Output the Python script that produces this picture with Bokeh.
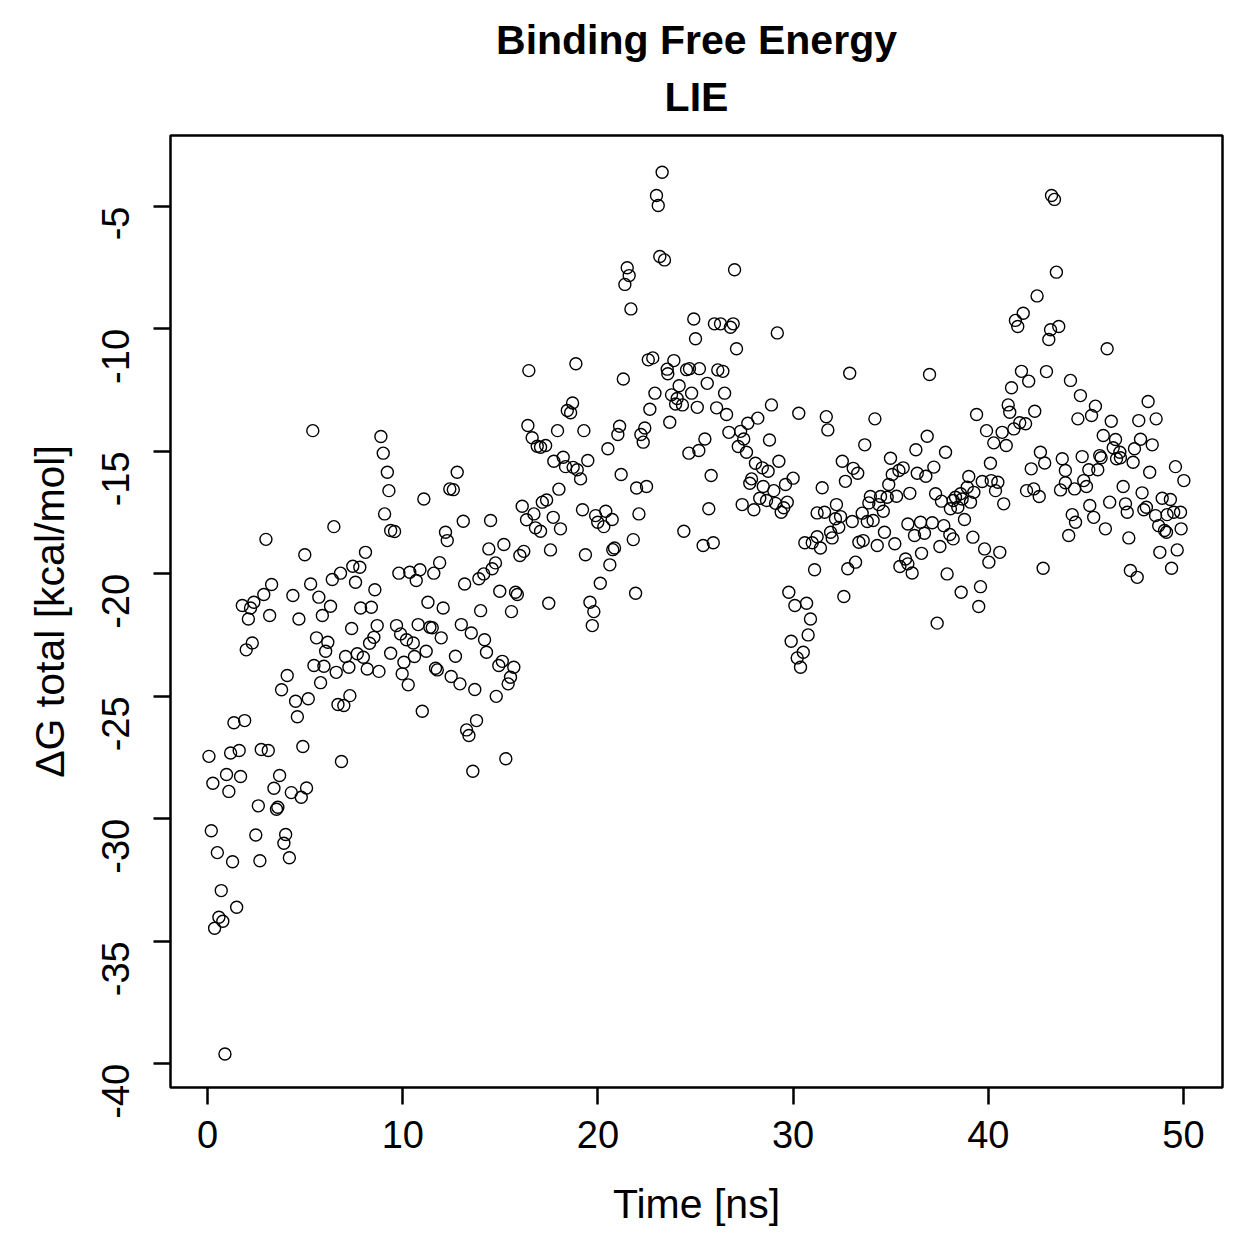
import math
from bokeh.plotting import figure
from bokeh.models import FixedTicker, Title, ColumnDataSource
from bokeh.embed import file_html
from bokeh.resources import INLINE

# (time [ns], dG total [kcal/mol]), grouped by time window
win_00_06 = [(5.39,-14.15),(2.99,-18.59),(4.98,-19.22),(3.28,-20.43),(2.88,-20.84),(2.37,-21.16),(1.78,-21.29),(2.20,-21.39),(2.09,-21.84),(3.18,-21.70),(4.37,-20.88),(5.28,-20.41),(5.70,-20.95),(4.68,-21.84),(5.88,-21.70),(5.58,-22.61),(2.29,-22.82),(1.98,-23.10),(5.45,-23.74),(5.96,-23.77),(4.08,-24.15),(5.79,-24.44),(3.79,-24.73),(4.51,-25.20),(5.16,-25.10),(4.60,-25.83),(1.35,-26.08),(1.90,-25.99),(4.88,-27.05),(0.07,-27.45),(1.18,-27.31),(1.62,-27.21),(2.75,-27.17),(3.11,-27.21),(0.27,-28.55),(0.97,-28.19),(1.69,-28.27),(1.09,-28.88),(3.69,-28.23),(3.40,-28.75),(4.29,-28.93),(4.80,-29.12),(5.07,-28.74),(2.60,-29.47),(3.53,-29.61),(3.60,-29.53),(0.19,-30.49),(2.47,-30.66),(4.00,-30.64),(3.91,-31.00),(0.50,-31.38),(1.28,-31.75),(2.68,-31.71),(4.19,-31.59),(0.70,-32.93),(1.49,-33.61),(0.58,-34.02),(0.78,-34.18),(0.36,-34.47),(0.89,-39.60)]
win_06_12 = [(8.88,-14.39),(9.00,-15.07),(9.21,-15.85),(9.29,-16.60),(11.08,-16.94),(9.07,-17.55),(9.38,-18.23),(9.58,-18.27),(6.47,-18.07),(8.09,-19.12),(7.44,-19.69),(7.80,-19.73),(6.81,-19.97),(6.39,-20.23),(7.58,-20.34),(9.80,-19.97),(10.36,-19.93),(10.88,-19.83),(11.59,-19.97),(11.89,-19.54),(10.69,-20.27),(8.57,-20.65),(6.30,-21.32),(7.84,-21.39),(8.39,-21.36),(11.29,-21.16),(12.07,-21.39),(7.38,-22.23),(8.69,-22.11),(8.52,-22.59),(8.30,-22.83),(9.68,-22.11),(9.89,-22.45),(10.19,-22.69),(10.54,-22.82),(10.79,-22.07),(11.39,-22.18),(11.51,-22.20),(11.97,-22.61),(6.16,-22.79),(6.05,-23.16),(7.07,-23.37),(7.24,-23.81),(7.67,-23.26),(7.98,-23.40),(8.18,-23.88),(8.78,-23.98),(9.38,-23.24),(10.06,-23.61),(9.97,-24.08),(10.60,-23.37),(10.28,-24.53),(11.20,-23.16),(11.68,-23.85),(11.77,-23.92),(6.59,-24.02),(7.29,-24.97),(6.68,-25.33),(6.98,-25.37),(11.00,-25.61),(6.86,-27.66)]
win_12_18 = [(16.46,-11.70),(16.41,-13.94),(16.63,-14.44),(16.89,-14.79),(17.06,-14.83),(17.32,-14.76),(17.93,-14.15),(17.74,-15.40),(18.22,-15.24),(12.79,-15.85),(12.41,-16.53),(12.59,-16.56),(18.00,-16.54),(16.12,-17.24),(16.34,-17.79),(16.72,-17.55),(16.80,-18.12),(17.06,-18.26),(17.15,-17.07),(17.37,-16.98),(17.71,-17.69),(18.08,-18.16),(13.10,-17.85),(14.50,-17.82),(12.19,-18.30),(12.28,-18.64),(14.41,-18.98),(15.18,-18.80),(16.00,-19.25),(16.20,-19.08),(17.57,-19.02),(13.17,-20.41),(13.90,-20.20),(14.15,-20.00),(14.58,-19.79),(14.75,-19.55),(14.97,-20.71),(15.78,-20.75),(15.87,-20.84),(17.48,-21.20),(13.99,-21.50),(15.57,-21.54),(13.00,-22.07),(13.51,-22.41),(14.19,-22.69),(14.29,-23.20),(12.70,-23.36),(14.92,-23.74),(15.10,-23.57),(15.69,-23.81),(15.52,-24.22),(15.40,-24.49),(12.48,-24.19),(12.93,-24.49),(13.69,-24.72),(14.79,-25.00),(13.78,-25.99),(13.27,-26.37),(13.39,-26.60),(15.28,-27.55),(13.59,-28.06)]
win_18_25 = [(23.29,-3.60),(23.00,-4.55),(23.09,-4.96),(23.17,-7.04),(23.41,-7.18),(21.50,-7.50),(21.60,-7.82),(21.38,-8.18),(21.69,-9.18),(18.87,-11.42),(21.30,-12.04),(22.58,-11.26),(22.81,-11.18),(23.55,-11.64),(23.89,-11.29),(23.58,-11.83),(24.54,-11.66),(24.69,-11.62),(22.92,-12.62),(22.66,-13.28),(23.77,-12.69),(24.16,-12.32),(24.06,-12.84),(23.98,-13.06),(24.33,-13.10),(24.80,-12.62),(18.70,-13.02),(18.43,-13.33),(18.60,-13.42),(21.11,-13.97),(21.02,-14.31),(22.40,-14.04),(22.20,-14.31),(22.32,-14.62),(23.68,-13.81),(24.66,-15.07),(19.28,-14.15),(20.51,-14.89),(18.34,-15.62),(18.73,-15.65),(18.94,-15.75),(19.11,-16.12),(19.48,-15.37),(21.19,-15.94),(21.98,-16.49),(22.49,-16.43),(19.21,-17.38),(19.88,-17.62),(19.99,-17.89),(20.40,-17.44),(20.30,-18.07),(20.73,-17.78),(22.10,-17.55),(24.40,-18.26),(21.81,-18.60),(20.85,-18.94),(20.76,-19.01),(20.61,-19.63),(19.36,-19.22),(20.12,-20.38),(21.93,-20.79),(19.59,-21.16),(19.79,-21.54),(19.71,-22.11)]
win_25_31 = [(27.00,-7.58),(24.91,-9.59),(25.97,-9.79),(26.28,-9.79),(26.79,-9.93),(26.93,-9.79),(25.00,-10.40),(29.19,-10.16),(27.10,-10.81),(25.20,-11.62),(26.14,-11.67),(26.40,-11.73),(25.60,-12.22),(26.49,-12.62),(25.09,-13.20),(26.08,-13.22),(26.59,-13.49),(28.89,-13.10),(30.29,-13.44),(27.68,-13.85),(28.19,-13.64),(26.71,-14.22),(27.31,-14.18),(27.47,-14.49),(27.19,-14.80),(27.61,-15.03),(28.79,-14.53),(25.48,-14.49),(25.17,-14.96),(29.27,-15.40),(28.07,-15.48),(28.42,-15.67),(28.72,-15.81),(25.80,-15.98),(27.87,-16.12),(27.78,-16.30),(28.47,-16.43),(29.01,-16.60),(29.61,-16.35),(30.00,-16.09),(28.29,-16.91),(28.64,-17.00),(29.10,-17.12),(29.70,-17.07),(29.52,-17.30),(27.39,-17.17),(25.68,-17.34),(27.99,-17.38),(29.39,-17.48),(25.39,-18.84),(25.91,-18.73),(30.60,-18.73),(30.98,-18.73),(29.78,-20.75),(30.09,-21.29),(30.69,-21.20),(30.89,-21.84),(30.77,-22.49),(29.90,-22.75),(30.52,-23.20),(30.21,-23.43),(30.38,-23.81)]
win_31_38 = [(32.90,-11.81),(36.99,-11.86),(31.70,-13.58),(31.78,-14.12),(34.19,-13.67),(33.67,-14.73),(36.87,-14.38),(36.29,-14.93),(32.52,-15.40),(33.08,-15.69),(33.31,-15.89),(32.68,-16.22),(34.99,-15.28),(35.64,-15.67),(35.42,-15.78),(35.08,-15.94),(34.90,-16.35),(36.36,-15.89),(36.80,-16.01),(37.21,-15.64),(31.49,-16.48),(37.30,-16.73),(37.60,-17.03),(35.98,-16.71),(35.30,-16.83),(34.82,-16.87),(34.48,-16.84),(33.96,-16.84),(33.88,-17.10),(34.39,-17.17),(34.62,-17.44),(32.22,-17.17),(31.23,-17.51),(31.61,-17.48),(32.17,-17.75),(32.43,-17.66),(32.34,-18.10),(33.03,-17.86),(33.54,-17.52),(33.80,-17.86),(34.10,-17.82),(31.92,-18.30),(32.00,-18.53),(31.23,-18.48),(31.40,-18.94),(33.37,-18.71),(33.59,-18.64),(34.31,-18.84),(34.68,-18.30),(35.21,-18.77),(35.88,-17.96),(36.53,-17.89),(37.13,-17.91),(37.72,-18.03),(36.22,-18.43),(36.73,-18.34),(37.52,-18.88),(36.58,-19.16),(33.20,-19.52),(32.80,-19.79),(35.76,-19.39),(35.47,-19.70),(35.88,-19.59),(36.10,-19.96),(31.10,-19.83),(32.60,-20.92),(37.38,-22.01)]
win_38_44 = [(43.24,-4.55),(43.39,-4.71),(43.49,-7.68),(42.50,-8.65),(41.79,-9.36),(41.39,-9.65),(41.51,-9.90),(43.19,-10.03),(43.61,-9.90),(43.10,-10.43),(41.70,-11.73),(42.07,-12.13),(42.98,-11.74),(41.19,-12.40),(41.02,-13.10),(41.10,-13.40),(42.38,-13.36),(39.40,-13.49),(39.91,-14.15),(40.28,-14.65),(40.71,-14.22),(40.92,-14.76),(41.31,-14.08),(41.61,-13.83),(41.91,-13.87),(37.81,-15.03),(40.11,-15.48),(42.67,-15.03),(42.89,-15.47),(42.20,-15.71),(43.79,-15.30),(39.00,-16.02),(38.92,-16.46),(39.26,-16.67),(38.58,-16.73),(38.32,-16.87),(38.20,-17.00),(38.66,-16.94),(38.44,-17.28),(38.06,-17.34),(39.09,-17.07),(39.69,-16.23),(40.15,-16.19),(40.49,-16.26),(40.37,-16.60),(40.79,-17.14),(41.96,-16.60),(42.33,-16.53),(42.61,-16.84),(38.78,-17.78),(38.03,-18.39),(38.20,-18.57),(39.21,-18.50),(39.81,-18.98),(40.03,-19.52),(40.59,-19.12),(37.89,-20.00),(42.81,-19.77),(38.61,-20.75),(39.60,-20.52),(39.51,-21.33),(43.70,-16.57)]
win_44_50 = [(46.09,-10.81),(44.21,-12.10),(44.72,-12.72),(45.49,-13.15),(45.29,-13.53),(44.59,-13.67),(46.30,-13.77),(48.19,-12.96),(47.71,-13.74),(48.60,-13.67),(45.89,-14.35),(46.52,-14.51),(46.40,-14.85),(46.74,-15.03),(46.57,-15.30),(46.77,-15.26),(45.71,-15.17),(45.61,-15.75),(45.78,-15.26),(47.42,-15.44),(47.49,-14.89),(47.80,-14.50),(48.40,-14.73),(43.95,-15.78),(44.81,-15.21),(45.15,-15.75),(44.89,-16.19),(45.03,-16.43),(44.42,-16.53),(43.95,-16.28),(48.27,-15.85),(49.59,-15.62),(50.02,-16.19),(46.91,-16.43),(47.88,-16.69),(46.22,-17.07),(47.03,-17.14),(47.12,-17.48),(45.20,-17.21),(45.40,-17.69),(44.30,-17.58),(44.47,-17.89),(44.12,-18.43),(47.97,-17.38),(48.10,-17.28),(48.57,-17.62),(48.91,-16.91),(49.33,-16.96),(49.16,-17.58),(49.50,-17.48),(49.85,-17.48),(48.73,-18.03),(49.03,-18.23),(49.13,-18.30),(49.88,-18.16),(46.00,-18.16),(47.20,-18.53),(48.79,-19.12),(49.68,-19.02),(47.28,-19.86),(47.63,-20.14),(49.39,-19.77)]

x_ticks = [0, 10, 20, 30, 40, 50]
x_tick_labels = ["0", "10", "20", "30", "40", "50"]
y_ticks = [-40, -35, -30, -25, -20, -15, -10, -5]
y_tick_labels = ["-40", "-35", "-30", "-25", "-20", "-15", "-10", "-5"]

title_line1 = "Binding Free Energy"
title_line2 = "LIE"
x_label = "Time [ns]"
y_label = "\u0394G total [kcal/mol]"

windows = [win_00_06, win_06_12, win_12_18, win_18_25, win_25_31, win_31_38, win_38_44, win_44_50]
time_ns = [t for w in windows for (t, g) in w]
dg_total = [g for w in windows for (t, g) in w]

FONT = "Liberation Sans"

p = figure(width=1259, height=1259, x_range=(-1.9, 52.0), y_range=(-40.97, -2.10),
           output_backend="svg", toolbar_location=None, title=None,
           min_border_left=170, min_border_right=37, min_border_top=135, min_border_bottom=172)
p.background_fill_color = "white"
p.border_fill_color = "white"
p.outline_line_color = "black"
p.outline_line_width = 2.5
p.xgrid.grid_line_color = None
p.ygrid.grid_line_color = None

src = ColumnDataSource(dict(t=time_ns, g=dg_total))
p.scatter(x="t", y="g", source=src, marker="circle", size=12,
          fill_color=None, line_color="black", line_width=1.4)

p.add_layout(Title(text=title_line2, align="center", text_font=FONT, text_font_size="41px",
                   text_font_style="bold", text_color="black", standoff=32), "above")
p.add_layout(Title(text=title_line1, align="center", text_font=FONT, text_font_size="41px",
                   text_font_style="bold", text_color="black", standoff=-15), "above")

for ax in (p.xaxis[0], p.yaxis[0]):
    ax.axis_line_color = None
    ax.major_tick_in = 0
    ax.major_tick_out = 17
    ax.major_tick_line_width = 2.5
    ax.major_tick_line_color = "black"
    ax.minor_tick_line_color = None
    ax.major_label_text_font = FONT
    ax.major_label_text_font_size = "38px"
    ax.major_label_text_color = "black"
    ax.axis_label_text_font = FONT
    ax.axis_label_text_font_size = "41px"
    ax.axis_label_text_font_style = "normal"
    ax.axis_label_text_color = "black"

p.xaxis.ticker = FixedTicker(ticks=x_ticks)
p.xaxis.major_label_overrides = {t: s for t, s in zip(x_ticks, x_tick_labels)}
p.yaxis.ticker = FixedTicker(ticks=y_ticks)
p.yaxis.major_label_overrides = {t: s for t, s in zip(y_ticks, y_tick_labels)}
p.yaxis.major_label_orientation = math.pi / 2
p.xaxis.major_label_standoff = 16
p.yaxis.major_label_standoff = 38
p.xaxis.axis_label = x_label
p.yaxis.axis_label = y_label
p.xaxis.axis_label_standoff = 30
p.yaxis.axis_label_standoff = 13

open("out.html", "w").write(file_html(p, INLINE))
